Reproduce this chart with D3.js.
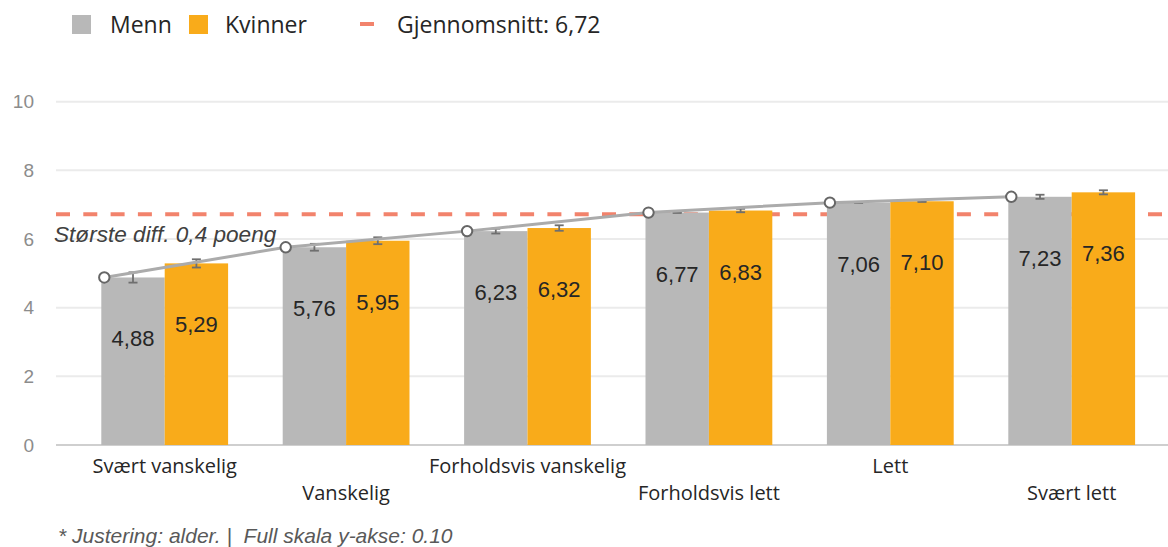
<!DOCTYPE html>
<html>
<head>
<meta charset="utf-8">
<script src="https://cdn.jsdelivr.net/npm/d3@7/dist/d3.min.js"></script>
<style>
  html, body { margin: 0; padding: 0; background: #fff; }
  svg { display: block; }
</style>
</head>
<body>
<svg id="chart" width="1168" height="547"></svg>
<script>
// Categories (difficulty) and mean scores per gender
const categories = ["Svært vanskelig", "Vanskelig", "Forholdsvis vanskelig", "Forholdsvis lett", "Lett", "Svært lett"];
const seriesNames = ["Menn", "Kvinner"];
const menValues = [4.88, 5.76, 6.23, 6.77, 7.06, 7.23];
const womenValues = [5.29, 5.95, 6.32, 6.83, 7.10, 7.36];
const menErrors = [0.15, 0.10, 0.07, 0.01, 0.01, 0.06];
const womenErrors = [0.12, 0.10, 0.08, 0.05, 0.02, 0.06];
const averageValue = 6.72;
const yTicks = [0, 2, 4, 6, 8, 10];
const averageLabel = "Gjennomsnitt: 6,72";
const annotationText = "Største diff. 0,4 poeng";
const footnoteText = "* Justering: alder. |  Full skala y-akse: 0.10";

const colors = { Menn: "#b8b8b8", Kvinner: "#f9ab1a" };
const avgColor = "#f2836c";

const svg = d3.select("#chart");
const W = 1168;
const gridLeft = 56;

const nb = d3.formatLocale({ decimal: ",", thousands: " ", grouping: [3], currency: ["", ""] });
const fmt = nb.format(".2f");

const x0 = d3.scaleBand()
  .domain(categories)
  .range([74, 1162.4])
  .paddingInner(0.301)
  .paddingOuter(0.1505);

const x1 = d3.scaleBand()
  .domain(seriesNames)
  .range([0, x0.bandwidth()]);

const y = d3.scaleLinear().domain([0, 10]).range([445, 101.7]);

// Gridlines
svg.append("g")
  .selectAll("line")
  .data(yTicks.filter(t => t > 0))
  .join("line")
  .attr("x1", gridLeft).attr("x2", W)
  .attr("y1", d => y(d)).attr("y2", d => y(d))
  .attr("stroke", "#ebebeb").attr("stroke-width", 2);

// Y axis labels
const yAxis = d3.axisLeft(y).tickValues(yTicks).tickSize(0).tickPadding(0).tickFormat(d3.format("d"));
const yG = svg.append("g").attr("transform", "translate(34,0)").call(yAxis);
yG.select(".domain").remove();
yG.selectAll("text")
  .attr("font-family", "'Liberation Sans', Arial, sans-serif")
  .attr("font-size", 19)
  .attr("fill", "#8c8c8c");

// Baseline
svg.append("line")
  .attr("x1", gridLeft).attr("x2", W)
  .attr("y1", y(0)).attr("y2", y(0))
  .attr("stroke", "#cfcfcf").attr("stroke-width", 2);

// Rows of bar data
const rows = categories.map((c, i) => ({
  cat: c, i,
  bars: [
    { key: "Menn", value: menValues[i], err: menErrors[i] },
    { key: "Kvinner", value: womenValues[i], err: womenErrors[i] }
  ]
}));

// Average dashed line (behind bars)
svg.append("line")
  .attr("x1", gridLeft).attr("x2", W)
  .attr("y1", y(averageValue)).attr("y2", y(averageValue))
  .attr("stroke", avgColor).attr("stroke-width", 4)
  .attr("stroke-dasharray", "14,13.3");

// Bars
const groups = svg.append("g").selectAll("g")
  .data(rows)
  .join("g")
  .attr("transform", d => `translate(${x0(d.cat)},0)`);

groups.selectAll("rect")
  .data(d => d.bars)
  .join("rect")
  .attr("x", d => x1(d.key))
  .attr("width", x1.bandwidth())
  .attr("y", d => y(d.value))
  .attr("height", d => y(0) - y(d.value))
  .attr("fill", d => colors[d.key]);

// Value labels inside bars
groups.selectAll("text.val")
  .data(d => d.bars)
  .join("text")
  .attr("class", "val")
  .attr("x", d => x1(d.key) + x1.bandwidth() / 2)
  .attr("y", d => y(d.value) + 69)
  .attr("text-anchor", "middle")
  .attr("font-family", "'Liberation Sans', Arial, sans-serif")
  .attr("font-size", 22)
  .attr("fill", "#262626")
  .text(d => fmt(d.value));

// Error bars
const errG = groups.selectAll("g.err")
  .data(d => d.bars)
  .join("g")
  .attr("class", "err")
  .attr("stroke", "#6f6f6f")
  .attr("stroke-width", 1.8);
const cap = 4.5;
errG.append("line")
  .attr("x1", d => x1(d.key) + x1.bandwidth() / 2)
  .attr("x2", d => x1(d.key) + x1.bandwidth() / 2)
  .attr("y1", d => y(d.value + d.err))
  .attr("y2", d => y(d.value - d.err));
errG.append("line")
  .attr("x1", d => x1(d.key) + x1.bandwidth() / 2 - cap)
  .attr("x2", d => x1(d.key) + x1.bandwidth() / 2 + cap)
  .attr("y1", d => y(d.value + d.err))
  .attr("y2", d => y(d.value + d.err));
errG.append("line")
  .attr("x1", d => x1(d.key) + x1.bandwidth() / 2 - cap)
  .attr("x2", d => x1(d.key) + x1.bandwidth() / 2 + cap)
  .attr("y1", d => y(d.value - d.err))
  .attr("y2", d => y(d.value - d.err));

// Trend line through the men's values
const lx = d => x0(d.cat) + 3;
const line = d3.line().x(lx).y(d => y(menValues[d.i]));
svg.append("path")
  .datum(rows)
  .attr("d", line)
  .attr("fill", "none")
  .attr("stroke", "#ababab")
  .attr("stroke-width", 3);
svg.append("g").selectAll("circle")
  .data(rows)
  .join("circle")
  .attr("cx", lx)
  .attr("cy", d => y(menValues[d.i]))
  .attr("r", 5.2)
  .attr("fill", "#fff")
  .attr("stroke", "#666")
  .attr("stroke-width", 2);

// Category labels on alternating rows
svg.append("g").selectAll("text")
  .data(rows)
  .join("text")
  .attr("x", d => x0(d.cat) + x0.bandwidth() / 2)
  .attr("y", d => d.i % 2 === 0 ? 473 : 500)
  .attr("text-anchor", "middle")
  .attr("font-family", "'Open Sans', 'Noto Sans', sans-serif")
  .attr("font-size", 20)
  .attr("fill", "#262626")
  .text(d => d.cat);

// Annotation
svg.append("text")
  .attr("x", 54).attr("y", 242)
  .attr("font-family", "'Liberation Sans', Arial, sans-serif")
  .attr("font-style", "italic")
  .attr("font-size", 22.6)
  .attr("fill", "#404040")
  .text(annotationText);

// Legend
const legend = svg.append("g")
  .attr("font-family", "'Open Sans', 'Noto Sans', sans-serif")
  .attr("font-size", 23)
  .attr("fill", "#262626");
const legendItems = [
  { key: "Menn", sx: 72, tx: 110 },
  { key: "Kvinner", sx: 189, tx: 225 }
];
legend.selectAll("rect")
  .data(legendItems)
  .join("rect")
  .attr("x", d => d.sx).attr("y", 15)
  .attr("width", 19).attr("height", 19)
  .attr("fill", d => colors[d.key]);
legend.selectAll("text.lg")
  .data(legendItems)
  .join("text")
  .attr("class", "lg")
  .attr("x", d => d.tx).attr("y", 33)
  .text(d => d.key);
legend.append("line")
  .attr("x1", 360).attr("x2", 374)
  .attr("y1", 24).attr("y2", 24)
  .attr("stroke", avgColor).attr("stroke-width", 4);
legend.append("text")
  .attr("x", 397).attr("y", 33)
  .text(averageLabel);

// Footnote
svg.append("text")
  .attr("x", 58).attr("y", 543)
  .attr("font-family", "'Liberation Sans', Arial, sans-serif")
  .attr("font-style", "italic")
  .attr("font-size", 21)
  .attr("fill", "#595959")
  .style("white-space", "pre")
  .text(footnoteText);
</script>
</body>
</html>
